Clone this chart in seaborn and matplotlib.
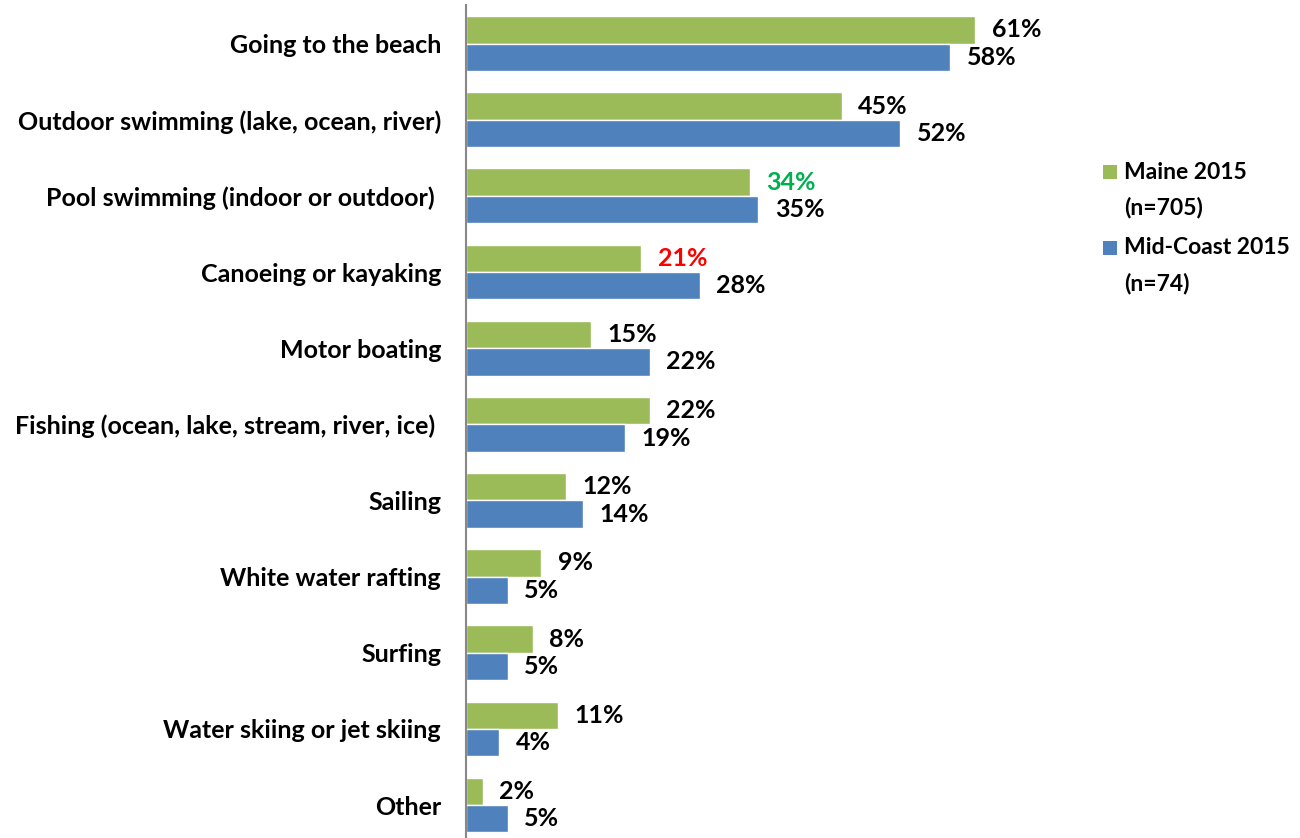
import matplotlib
matplotlib.use("Agg")
import matplotlib.pyplot as plt
import seaborn as sns
import pandas as pd
from matplotlib.patches import Rectangle
from matplotlib import font_manager as fm

categories = [
    "Going to the beach",
    "Outdoor swimming (lake, ocean, river)",
    "Pool swimming (indoor or outdoor) ",
    "Canoeing or kayaking",
    "Motor boating",
    "Fishing (ocean, lake, stream, river, ice) ",
    "Sailing",
    "White water rafting",
    "Surfing",
    "Water skiing or jet skiing",
    "Other",
]
series_names = ["Maine 2015", "Mid-Coast 2015"]
series_n = ["(n=705)", "(n=74)"]
maine = [61, 45, 34, 21, 15, 22, 12, 9, 8, 11, 2]
midcoast = [58, 52, 35, 28, 22, 19, 14, 5, 5, 4, 5]
maine_label_colors = ["black", "black", "#00B050", "#FF0000", "black", "black",
                      "black", "black", "black", "black", "black"]

colors = ["#9BBB59", "#4F81BD"]

df = pd.DataFrame({
    "category": categories * 2,
    "series": [series_names[0]] * len(categories) + [series_names[1]] * len(categories),
    "value": maine + midcoast,
})

sns.set_style("white")
plt.rcParams["font.family"] = ["Lato", "DejaVu Sans"]
plt.rcParams["text.color"] = "black"
plt.rcParams["ytick.color"] = "black"
plt.rcParams["ytick.labelcolor"] = "black"

bold_path = fm.findfont(fm.FontProperties(family="Lato", weight="bold"))
FS = 18


def fp(size=FS):
    return fm.FontProperties(fname=bold_path, size=size)


fig = plt.figure(figsize=(13, 8.38), dpi=100)
W, H = 1300, 838
left_px, right_px = 466, 1092
top_px = 5.5
ax = fig.add_axes([left_px / W, 0, (right_px - left_px) / W, (H - top_px) / H])

sns.barplot(data=df, y="category", x="value", hue="series", order=categories,
            hue_order=series_names, palette=colors, width=0.72, orient="h",
            ax=ax, legend=False, saturation=1)

ax.set_xlim(0, 75)
ax.set_ylim(-0.5 + (H - top_px) / 76.15, -0.5)
ax.set_xlabel("")
ax.set_ylabel("")
ax.set_xticks([])
for s in ["top", "right", "bottom"]:
    ax.spines[s].set_visible(False)
ax.spines["left"].set_color("#888888")
ax.spines["left"].set_linewidth(1.5)
ax.tick_params(axis="y", length=0, pad=18, labelcolor="black")
ax.set_yticks(range(len(categories)))
ax.set_yticklabels(categories, fontproperties=fp(), color="black")

for i, cont in enumerate(ax.containers):
    vals = maine if i == 0 else midcoast
    labels = [f"{v}%" for v in vals]
    texts = ax.bar_label(cont, labels=labels, padding=12, color="black")
    for t in texts:
        t.set_fontproperties(fp())
    if i == 0:
        for t, c in zip(texts, maine_label_colors):
            t.set_color(c)

# legend
leg_x = 1103
LFS = 16.5
entry_tops = [165, 241]
for c, name, n, top in zip(colors, series_names, series_n, entry_tops):
    fig.add_artist(Rectangle((leg_x / W, 1 - (top + 14) / H), 14 / W, 14 / H,
                             transform=fig.transFigure, facecolor=c, edgecolor="none"))
    fig.text(1124 / W, 1 - (top + 7) / H, name, fontproperties=fp(LFS), va="center",
             ha="left", color="black")
    fig.text(1124 / W, 1 - (top + 42) / H, n, fontproperties=fp(LFS), va="center",
             ha="left", color="black")

fig.savefig("out.png", dpi=100)
